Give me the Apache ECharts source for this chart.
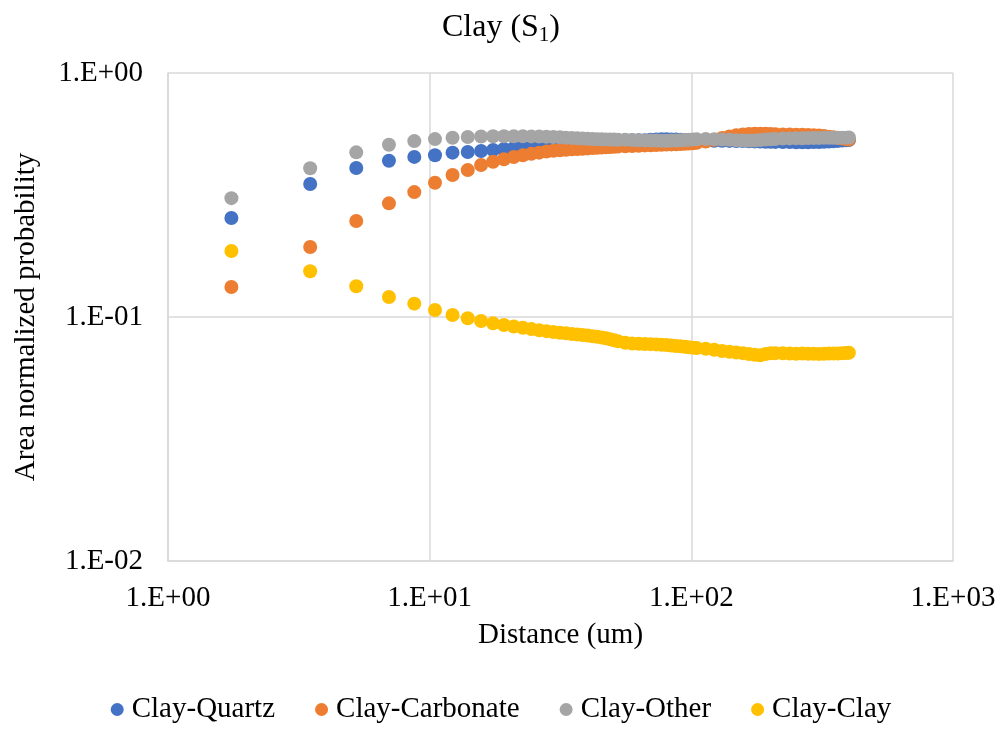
<!DOCTYPE html>
<html>
<head>
<meta charset="utf-8">
<script src="https://cdn.jsdelivr.net/npm/echarts@6/dist/echarts.min.js"></script>
<style>
html,body{margin:0;padding:0;background:#fff;}
#chart{width:1002px;height:731px;}
</style>
</head>
<body>
<div id="chart"></div>
<script>
var distances = [1.747, 3.494, 5.241, 6.988, 8.735, 10.48, 12.23, 13.98, 15.72, 17.47, 19.22, 20.96, 22.71, 24.46, 26.21, 27.95, 29.70, 31.45, 33.19, 34.94, 36.69, 38.43, 40.18, 41.93, 43.68, 45.42, 47.17, 48.92, 50.66, 52.41, 55.90, 59.40, 62.89, 66.39, 69.88, 73.37, 76.87, 80.36, 83.86, 87.35, 90.85, 94.34, 97.83, 101.33, 104.82, 113.56, 122.29, 131.03, 139.76, 148.50, 157.23, 165.97, 174.70, 183.44, 192.17, 200.91, 209.64, 223.62, 237.59, 251.57, 265.54, 279.52, 293.50, 307.47, 321.45, 335.42, 349.40, 363.38, 377.35, 391.33, 400.06];

var clayQuartz = [0.2545, 0.351, 0.408, 0.437, 0.453, 0.460, 0.4715, 0.4745,
  0.4790, 0.4835, 0.4881, 0.4927, 0.4973, 0.5020, 0.5058, 0.5092, 0.5160, 0.5199, 0.5228, 0.5253, 0.5273, 0.5288, 0.5298, 0.5303, 0.5308, 0.5308, 0.5303, 0.5303, 0.5298, 0.5298,
  0.5303, 0.5298, 0.5298, 0.5303, 0.5323, 0.5338, 0.5348, 0.5348, 0.5343, 0.5338, 0.5328, 0.5318, 0.5308, 0.5298, 0.5293,
  0.5283, 0.5278, 0.5273, 0.5268, 0.5263, 0.5258, 0.5253, 0.5243, 0.5238, 0.5228, 0.5223, 0.5219,
  0.5214, 0.5209, 0.5204, 0.5204, 0.5204, 0.5209, 0.5214, 0.5223, 0.5238, 0.5253, 0.5268, 0.5283, 0.5298,
  0.5313];

var clayCarbonate = [0.1327, 0.1936, 0.2474, 0.2923, 0.325, 0.355, 0.382, 0.400,
  0.4197, 0.4329, 0.4429, 0.4526, 0.4603, 0.4664, 0.4717, 0.4762, 0.4798, 0.4825, 0.4848, 0.4866, 0.4880, 0.4894, 0.4908, 0.4922, 0.4936, 0.4950, 0.4964, 0.4973, 0.4983, 0.4992,
  0.5006, 0.5020, 0.5035, 0.5049, 0.5058, 0.5068, 0.5077, 0.5087, 0.5097, 0.5107, 0.5116, 0.5126, 0.5140, 0.5155, 0.5175,
  0.5238, 0.5323, 0.5414, 0.5491, 0.5554, 0.5596, 0.5622, 0.5633, 0.5638, 0.5633, 0.5622, 0.5611,
  0.5601, 0.5596, 0.5590, 0.5585, 0.5574, 0.5559, 0.5538, 0.5512, 0.5481, 0.5450, 0.5419, 0.5389, 0.5353,
  0.5333];

var clayOther = [0.307, 0.407, 0.473, 0.508, 0.526, 0.536, 0.543, 0.547,
  0.5491, 0.5502, 0.5507, 0.5507, 0.5502, 0.5497, 0.5491, 0.5476, 0.5465, 0.5450, 0.5434, 0.5419, 0.5404, 0.5389, 0.5373, 0.5363, 0.5353, 0.5348, 0.5343, 0.5338, 0.5333, 0.5328,
  0.5323, 0.5313, 0.5303, 0.5293, 0.5288, 0.5283, 0.5278, 0.5278, 0.5283, 0.5288, 0.5298, 0.5313, 0.5328, 0.5343, 0.5353,
  0.5363, 0.5353, 0.5338, 0.5323, 0.5303, 0.5288, 0.5283, 0.5293, 0.5313, 0.5333, 0.5353, 0.5368,
  0.5384, 0.5394, 0.5399, 0.5404, 0.5409, 0.5414, 0.5419, 0.5424, 0.5424, 0.5429, 0.5429, 0.5434, 0.5434,
  0.5440];

var clayClay = [0.1865, 0.154, 0.1336, 0.1208, 0.1134, 0.1069, 0.1019, 0.0988, 0.0963, 0.0942, 0.0927,
  0.0914, 0.0903, 0.0893, 0.0883, 0.0875, 0.0868, 0.0862, 0.0857, 0.0852, 0.0848, 0.0844, 0.0839, 0.0834, 0.0830, 0.0824, 0.0818, 0.0810, 0.0803, 0.0795,
  0.0784, 0.0779, 0.0777, 0.0775, 0.0774, 0.0772, 0.0770, 0.0767, 0.0764, 0.0761, 0.0758, 0.0755, 0.0752, 0.0749, 0.0746,
  0.0741, 0.0734, 0.0726, 0.0720, 0.0715, 0.0711, 0.0705, 0.0700, 0.0697, 0.0705, 0.0710, 0.0711,
  0.0710, 0.0708, 0.0707, 0.0708, 0.0707, 0.0707, 0.0706, 0.0707, 0.0708, 0.0708, 0.0709, 0.0711, 0.0712,
  0.0714];

var seriesNames = ['Clay-Quartz', 'Clay-Carbonate', 'Clay-Other', 'Clay-Clay'];
var seriesValues = [clayQuartz, clayCarbonate, clayOther, clayClay];
var seriesColors = ['#4472C4', '#ED7D31', '#A5A5A5', '#FFC000'];

function pairs(vals) {
  return distances.map(function (d, i) { return [d, vals[i]]; });
}
function sciLabel(v) {
  var e = Math.round(Math.log10(v));
  var s = e < 0 ? '-' : '+';
  var a = Math.abs(e);
  return '1.E' + s + (a < 10 ? '0' : '') + a;
}

var FONT = '"Liberation Serif", "Times New Roman", serif';
var gridColor = '#D9D9D9';

var chart = echarts.init(document.getElementById('chart'), null, {renderer: 'canvas'});
chart.setOption({
  backgroundColor: '#ffffff',
  animation: false,
  title: {
    text: 'Clay (S{sub|1})',
    left: 'center',
    top: 4,
    textStyle: {
      fontFamily: FONT, fontSize: 32, fontWeight: 'normal', color: '#000',
      rich: { sub: { fontFamily: FONT, fontSize: 21, color: '#000', verticalAlign: 'bottom', padding: [16, 0, 0, 0] } }
    }
  },
  legend: {
    bottom: 2,
    left: 'center',
    icon: 'circle',
    itemWidth: 13,
    itemHeight: 13,
    itemGap: 40,
    textStyle: { fontFamily: FONT, fontSize: 29, color: '#000', padding: [0, 0, 0, 3] },
    data: seriesNames
  },
  grid: { left: 168, right: 49, top: 73, bottom: 170, containLabel: false },
  xAxis: {
    type: 'log', logBase: 10, min: 1, max: 1000,
    name: 'Distance (um)', nameLocation: 'middle', nameGap: 60,
    nameTextStyle: { fontFamily: FONT, fontSize: 29, color: '#000' },
    axisLine: { show: true, lineStyle: { color: gridColor, width: 1.5 } },
    axisTick: { show: false },
    axisLabel: { fontFamily: FONT, fontSize: 29, color: '#000', margin: 23, formatter: sciLabel },
    splitLine: { show: true, lineStyle: { color: gridColor, width: 1.5 } },
    minorSplitLine: { show: false }
  },
  yAxis: {
    type: 'log', logBase: 10, min: 0.01, max: 1,
    name: 'Area normalized probability', nameLocation: 'middle', nameGap: 127,
    nameTextStyle: { fontFamily: FONT, fontSize: 29, color: '#000' },
    axisLine: { show: true, lineStyle: { color: gridColor, width: 1.5 } },
    axisTick: { show: false },
    axisLabel: { fontFamily: FONT, fontSize: 29, color: '#000', margin: 25, formatter: sciLabel },
    splitLine: { show: true, lineStyle: { color: gridColor, width: 1.5 } }
  },
  series: seriesNames.map(function (n, k) {
    return {
      name: n,
      type: 'scatter',
      symbol: 'circle',
      symbolSize: 14,
      itemStyle: { color: seriesColors[k], opacity: 1 },
      emphasis: { disabled: true },
      data: pairs(seriesValues[k])
    };
  })
});
</script>
</body>
</html>
